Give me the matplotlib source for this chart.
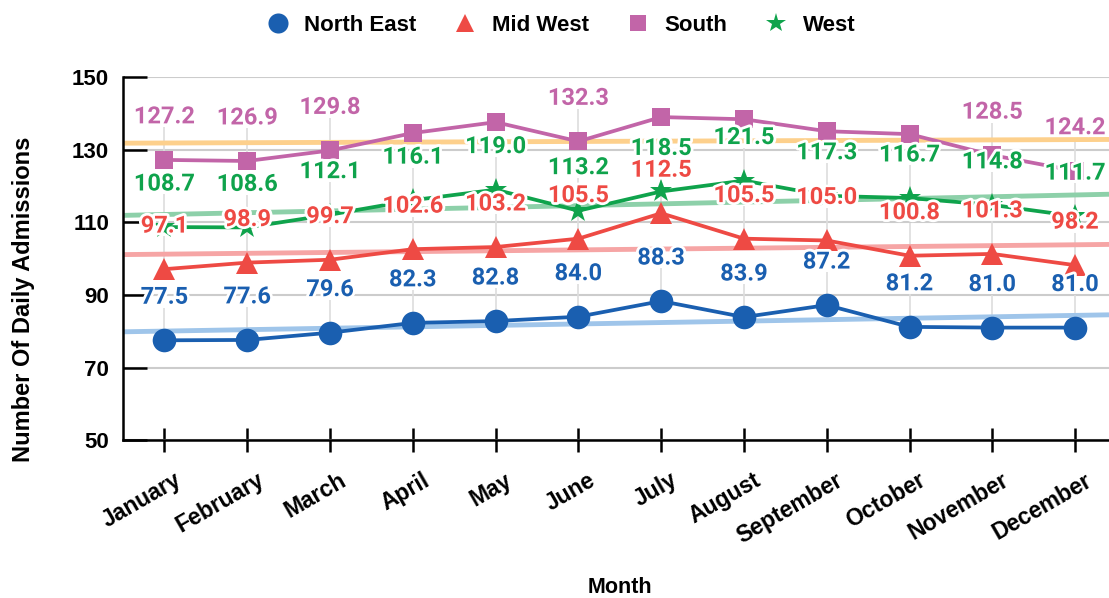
import numpy as np
import matplotlib.pyplot as plt
import matplotlib.patheffects as pe
from matplotlib.transforms import ScaledTranslation

months = ["January", "February", "March", "April", "May", "June", "July",
          "August", "September", "October", "November", "December"]

north_east = [77.5, 77.6, 79.6, 82.3, 82.8, 84.0, 88.3, 83.9, 87.2, 81.2, 81.0, 81.0]
mid_west = [97.1, 98.9, 99.7, 102.6, 103.2, 105.5, 112.5, 105.5, 105.0, 100.8, 101.3, 98.2]
south = [127.2, 126.9, 129.8, 134.6, 137.6, 132.3, 139.0, 138.4, 135.1, 134.3, 128.5, 124.2]
west = [108.7, 108.6, 112.1, 116.1, 119.0, 113.2, 118.5, 121.5, 117.3, 116.7, 114.8, 111.7]

# which labels are visible in the original (some south labels are hidden)
south_show = [1, 1, 1, 0, 0, 1, 0, 0, 0, 0, 1, 1]

series = [
    ("North East", north_east, "#1a5fb0", "#9fc5ea", "o", 17, [1] * 12),
    ("Mid West", mid_west, "#ee4a44", "#f6a5a5", "^", 16, [1] * 12),
    ("South", south, "#c265a8", "#fdd08c", "s", 13, south_show),
    ("West", west, "#0fa34c", "#8dd0a9", "*", 17, [1] * 12),
]

fig = plt.figure(figsize=(11.09, 5.98), dpi=100)
ax = fig.add_axes([0.111, 0.264, 0.889, 0.607])

x = np.arange(len(months))
xlim = (-0.5, 11.41)
ax.set_xlim(*xlim)
ax.set_ylim(50, 150)

# trend lines
for name, vals, col, tcol, mk, ms, show in series:
    k, b = np.polyfit(x, vals, 1)
    xx = np.array(xlim)
    ax.plot(xx, k * xx + b, color=tcol, lw=3.5, zorder=2, solid_capstyle="butt")

# leader lines
for name, vals, col, tcol, mk, ms, show in series:
    for i, v in enumerate(vals):
        if show[i]:
            ax.vlines(i, v, v + 9, color="#dddddd", lw=1.2, zorder=1.5)

handles = []
for name, vals, col, tcol, mk, ms, show in series:
    h, = ax.plot(x, vals, color=col, lw=2.7, marker=mk, markersize=ms,
                 markeredgewidth=0, label=name, zorder=4)
    handles.append(h)

for name, vals, col, tcol, mk, ms, show in series:
    for i, v in enumerate(vals):
        if show[i]:
            ax.annotate(f"{v:.1f}", (i, v), xytext=(0, 31), textcoords="offset points",
                        ha="center", va="center", fontsize=17, fontweight="bold",
                        family="Roboto", color=col, zorder=10,
                        path_effects=[pe.withStroke(linewidth=4, foreground="white")])

ax.set_yticks([50, 70, 90, 110, 130, 150])
ax.grid(axis="y", color="#cccccc", lw=1.5, zorder=0)
ax.set_axisbelow(True)
for s in ["top", "right"]:
    ax.spines[s].set_visible(False)
for s in ["left", "bottom"]:
    ax.spines[s].set_linewidth(1.8)

ax.tick_params(axis="y", direction="in", length=17, width=1.8, pad=10,
               labelsize=16)
ax.tick_params(axis="x", direction="inout", length=17, width=1.8, pad=12,
               labelsize=16.5)
ax.set_xticks(x)
ax.set_xticklabels(months, rotation=30, ha="right", rotation_mode="anchor")
for lab in ax.get_xticklabels() + ax.get_yticklabels():
    lab.set_fontweight("bold")
    lab.set_family("Liberation Sans")
off = ScaledTranslation(9 / 100, 0, fig.dpi_scale_trans)
for lab in ax.get_xticklabels():
    lab.set_transform(lab.get_transform() + off)

fig.text(0.021, 0.5, "Number Of Daily Admissions", fontsize=17, fontweight="bold",
         family="Liberation Sans", rotation=90, ha="center", va="center")
fig.text(0.559, 0.017, "Month", fontsize=15.5, fontweight="bold",
         family="Liberation Sans", ha="center", va="center")

fig.legend(handles=handles, loc="center", bbox_to_anchor=(0.505, 0.957), ncol=4,
           frameon=False, prop={"family": "Liberation Sans", "weight": "bold", "size": 16},
           markerscale=0.85, handlelength=1.2, handletextpad=0.6, columnspacing=1.6)
for h in fig.legends[0].get_lines():
    h.set_linestyle("none")

fig.savefig("out.png", dpi=100)
